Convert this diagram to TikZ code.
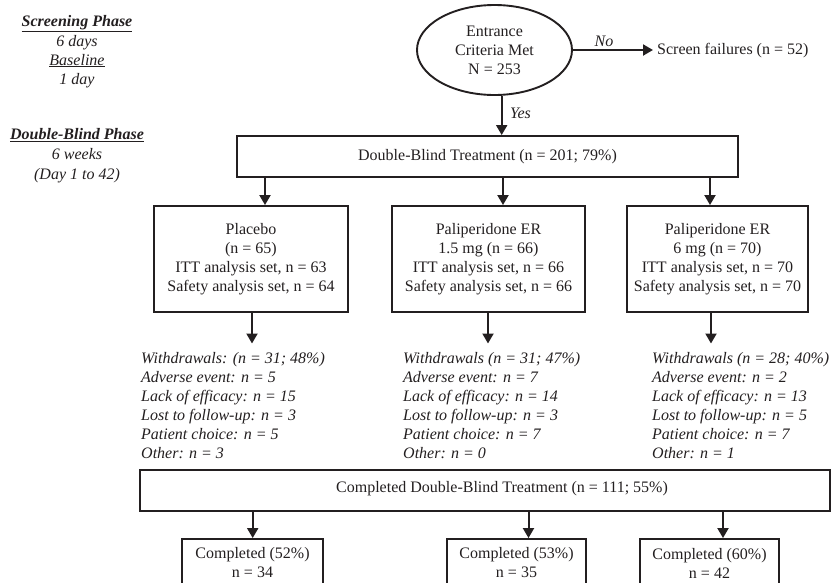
\documentclass[tikz,border=0pt]{standalone}
\usepackage{fontspec}
\setmainfont{Liberation Serif}
\usetikzlibrary{arrows.meta,shapes.geometric,calc}
\definecolor{ink}{RGB}{35,31,32}
\begin{document}
\begin{tikzpicture}[x=1pt,y=-1pt,
  every node/.style={font=\fontsize{16}{19}\selectfont, text=ink},
  box/.style={draw=ink, line width=1.9pt, inner sep=0pt, align=center},
  arr/.style={draw=ink, line width=2pt, -{Triangle[width=11pt,length=10pt]}},
  lab/.style={inner sep=0pt, font=\fontsize{16}{19}\selectfont\itshape},
  wd/.style={inner sep=0pt, anchor=north west, align=left, font=\fontsize{16}{19}\selectfont\itshape},
]
\useasboundingbox (0,0) rectangle (831,582);
\clip (0,0) rectangle (831,582);

% left annotations
\node[lab, anchor=base] (sp) at (77,26.5) {\bfseries\underline{Screening Phase}};
\node[lab, anchor=base] (sd) at (77,46.5) {6 days};
\node[lab, anchor=base] (bl) at (77,65) {\underline{Baseline}};
\node[lab, anchor=base] (bd) at (77,84.5) {1 day};
\node[lab, anchor=base] (dp) at (77,139.5) {\bfseries\underline{Double-Blind Phase}};
\node[lab, anchor=base] (dw) at (77,159.5) {6 weeks};
\node[lab, anchor=base] (dd) at (77,179.5) {(Day 1 to 42)};

% entrance
\node[box, ellipse, minimum width=155pt, minimum height=90pt] (ent) at (494.5,50) {Entrance\\Criteria Met\\N = 253};
\node[anchor=west, inner sep=0pt] (sf) at (657,51) {Screen failures (n = 52)};
\draw[arr, shorten >=4pt] (ent.east) -- (ent.east -| sf.west);
\node[lab] (no) at (604,41) {No};

\coordinate (cx) at (501.7,0);
\node[box, minimum width=501pt, minimum height=41pt] (db) at (487.5,156.5) {Double-Blind Treatment (n = 201; 79\%)};
\draw[arr] (ent.south -| cx) -- (db.north -| cx);
\node[lab, anchor=west] (yes) at (510,113) {Yes};

% groups
\node[box, minimum width=194pt, minimum height=106pt] (g1) at (251,259) {Placebo\\(n = 65)\\ITT analysis set, n = 63\\Safety analysis set, n = 64};
\node[box, minimum width=193pt, minimum height=106pt] (g2) at (488.5,259) {Paliperidone ER\\1.5 mg (n = 66)\\ITT analysis set, n = 66\\Safety analysis set, n = 66};
\node[box, minimum width=181pt, minimum height=106pt] (g3) at (717.5,259) {Paliperidone ER\\6 mg (n = 70)\\ITT analysis set, n = 70\\Safety analysis set, n = 70};

\coordinate (t1) at (265,0);
\coordinate (t2) at (503,0);
\coordinate (t3) at (710,0);
\draw[arr] (db.south -| t1) -- (g1.north -| t1);
\draw[arr] (db.south -| t2) -- (g2.north -| t2);
\draw[arr] (db.south -| t3) -- (g3.north -| t3);

% withdrawals
\node[wd] (w1) at (141,352.5) {Withdrawals: (n = 31; 48\%)\\Adverse event: n = 5\\Lack of efficacy: n = 15\\Lost to follow-up: n = 3\\Patient choice: n = 5\\Other: n = 3};
\node[wd] (w2) at (403,352.5) {Withdrawals (n = 31; 47\%)\\Adverse event: n = 7\\Lack of efficacy: n = 14\\Lost to follow-up: n = 3\\Patient choice: n = 7\\Other: n = 0};
\node[wd] (w3) at (652,352.5) {Withdrawals (n = 28; 40\%)\\Adverse event: n = 2\\Lack of efficacy: n = 13\\Lost to follow-up: n = 5\\Patient choice: n = 7\\Other: n = 1};

\coordinate (b1) at (252,0);
\coordinate (b2) at (488,0);
\coordinate (b3) at (711,0);
\draw[arr, shorten >=9pt] (g1.south -| b1) -- (w1.north -| b1);
\draw[arr, shorten >=9pt] (g2.south -| b2) -- (w2.north -| b2);
\draw[arr, shorten >=9pt] (g3.south -| b3) -- (w3.north -| b3);

% completed
\node[box, minimum width=690pt, minimum height=41pt] (cdb) at (485,490.5) {};
\node[inner sep=0pt] (cdbt) at (502,489) {Completed Double-Blind Treatment (n = 111; 55\%)};

\node[box, minimum width=141pt, minimum height=48pt] (c1) at (252.5,563) {Completed (52\%)\\n = 34};
\node[box, minimum width=139pt, minimum height=48pt] (c2) at (516.5,563) {Completed (53\%)\\n = 35};
\node[box, minimum width=139pt, minimum height=48pt] (c3) at (709.5,563) {Completed (60\%)\\n = 42};

\coordinate (d1) at (252.7,0);
\coordinate (d2) at (528.5,0);
\coordinate (d3) at (723,0);
\draw[arr] (cdb.south -| d1) -- (c1.north -| d1);
\draw[arr] (cdb.south -| d2) -- (c2.north -| d2);
\draw[arr] (cdb.south -| d3) -- (c3.north -| d3);
\end{tikzpicture}
\end{document}
